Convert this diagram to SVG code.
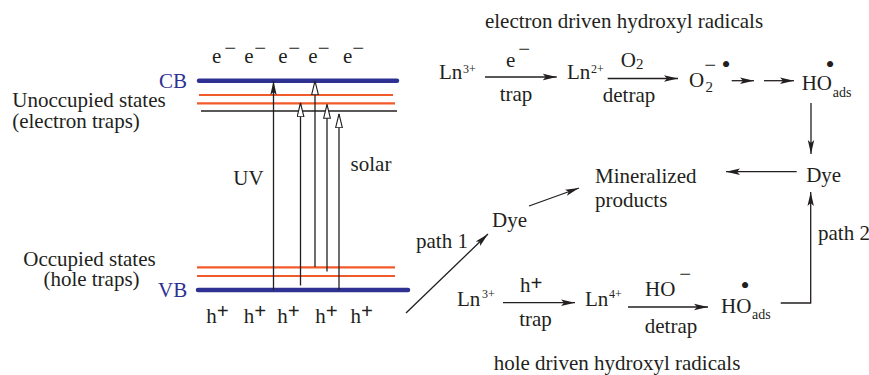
<svg xmlns="http://www.w3.org/2000/svg" width="869" height="375" viewBox="0 0 869 375">
<style>
text{font-family:"Liberation Serif","Times New Roman",serif;font-size:21px;fill:#231f20}
.blue{fill:#2e3192}
.sub{font-size:14px}
.d2{font-size:15px}
.sup{font-size:12px}
.pl{font-weight:bold}
.dot{font-size:26px}
.b{stroke:#2e3192;stroke-width:4.5;stroke-linecap:round}
.r{stroke:#f15a29;stroke-width:2.2}
.k{stroke:#231f20;stroke-width:1.3;fill:none}
</style>
<defs>
<marker id="ah" viewBox="0 0 14 8" refX="14" refY="4" markerWidth="14" markerHeight="8" orient="auto" markerUnits="userSpaceOnUse"><path d="M0,0.8 L14,4 L0,7.2 L3,4 z" fill="#231f20"/></marker>
<marker id="oh" viewBox="0 0 15 8" refX="14.4" refY="4" markerWidth="15" markerHeight="8" orient="auto" markerUnits="userSpaceOnUse"><path d="M0.6,0.6 L14.4,4 L0.6,7.4 z" fill="#fff" stroke="#231f20" stroke-width="1.1"/></marker>
</defs>
<rect width="869" height="375" fill="#fff"/>

<g id="bands">
<line class="b" x1="199" y1="80.7" x2="397" y2="80.7"/>
<line class="r" x1="199" y1="95" x2="393" y2="95"/>
<line class="r" x1="197" y1="103.3" x2="395" y2="103.3"/>
<line class="k" x1="201" y1="111" x2="397" y2="111"/>
<line class="r" x1="197" y1="267.3" x2="395" y2="267.3"/>
<line class="r" x1="197" y1="276" x2="395" y2="276"/>
<line class="b" x1="198" y1="290" x2="408" y2="290"/>
</g>

<g id="band-labels">
<text class="blue" x="159" y="88">CB</text>
<text class="blue" x="158" y="297">VB</text>
<text text-anchor="middle"><tspan x="89" y="107">Unoccupied states</tspan><tspan x="76" y="128">(electron traps)</tspan></text>
<text text-anchor="middle"><tspan x="89.5" y="265.5">Occupied states</tspan><tspan x="91.5" y="285.5">(hole traps)</tspan></text>
<text x="248.5" y="185" text-anchor="middle">UV</text>
<text x="371" y="171" text-anchor="middle">solar</text>
</g>

<g id="electrons">
<text x="212" y="63">e<tspan x="224.3" y="54.7">−</tspan></text>
<text x="244.3" y="63">e<tspan x="254.3" y="54.7">−</tspan></text>
<text x="278.3" y="63">e<tspan x="288.3" y="54.7">−</tspan></text>
<text x="308.3" y="63">e<tspan x="317.8" y="54.7">−</tspan></text>
<text x="343" y="63">e<tspan x="352.3" y="54.7">−</tspan></text>
</g>

<g id="holes">
<text x="206.2" y="323">h<tspan class="pl" x="216.7" y="318.3">+</tspan></text>
<text x="243.8" y="323">h<tspan class="pl" x="254.3" y="318.3">+</tspan></text>
<text x="277.2" y="323">h<tspan class="pl" x="287.7" y="318.3">+</tspan></text>
<text x="315.2" y="323">h<tspan class="pl" x="325.7" y="318.3">+</tspan></text>
<text x="350.5" y="323">h<tspan class="pl" x="361" y="318.3">+</tspan></text>
</g>

<g id="title-electron"><text x="624" y="28" text-anchor="middle">electron driven hydroxyl radicals</text></g>
<g id="ln3-top"><text x="439" y="79">Ln<tspan class="sup" x="463" y="73.3">3+</tspan></text></g>
<g id="lbl-e"><text x="506" y="67">e<tspan x="518.3" y="56.3">−</tspan></text></g>
<g id="lbl-trap-top"><text x="516" y="101" text-anchor="middle">trap</text></g>
<g id="ln2"><text x="567" y="79">Ln<tspan class="sup" x="591" y="73.3">2+</tspan></text></g>
<g id="lbl-o2"><text x="620.7" y="66.7">O<tspan class="d2" x="636" y="68.5">2</tspan></text></g>
<g id="lbl-detrap-top"><text x="629" y="102" text-anchor="middle">detrap</text></g>
<g id="superoxide"><text x="689" y="86.7">O<tspan class="d2" x="705.5" y="92.3">2</tspan><tspan x="704.3" y="72">−</tspan><tspan class="dot" x="721.5" y="73">•</tspan></text></g>
<g id="ho-top"><text x="801.7" y="90">HO<tspan class="sub" x="832.7" y="96.7">ads</tspan><tspan class="dot" x="825.5" y="73.3">•</tspan></text></g>
<g id="dye-right"><text x="823.7" y="181.7" text-anchor="middle">Dye</text></g>
<g id="mineralized"><text><tspan x="595" y="182.7">Mineralized</tspan><tspan x="595" y="206.7">products</tspan></text></g>
<g id="dye-mid"><text x="492" y="227">Dye</text></g>
<g id="lbl-path1"><text x="416" y="248">path 1</text></g>
<g id="lbl-path2"><text x="818" y="240">path 2</text></g>
<g id="ln3-bottom"><text x="457" y="306">Ln<tspan class="sup" x="482" y="298.3">3+</tspan></text></g>
<g id="lbl-h"><text x="520" y="291.7">h<tspan class="pl" x="530.5" y="290.3">+</tspan></text></g>
<g id="lbl-trap-bottom"><text x="535.5" y="326" text-anchor="middle">trap</text></g>
<g id="ln4"><text x="585" y="306">Ln<tspan class="sup" x="609" y="298.3">4+</tspan></text></g>
<g id="lbl-ho-minus"><text x="645" y="296">HO<tspan x="679.3" y="281.3">−</tspan></text></g>
<g id="lbl-detrap-bottom"><text x="671" y="332.7" text-anchor="middle">detrap</text></g>
<g id="ho-bottom"><text x="721" y="312.7">HO<tspan class="sub" x="752" y="319">ads</tspan><tspan class="dot" x="740.5" y="294">•</tspan></text></g>
<g id="title-hole"><text x="617" y="370" text-anchor="middle">hole driven hydroxyl radicals</text></g>

<g id="connectors" class="k">
<line x1="273.5" y1="290" x2="273.5" y2="81" marker-end="url(#ah)"/>
<line x1="300.5" y1="285.5" x2="300.5" y2="103" marker-end="url(#oh)"/>
<line x1="315" y1="267" x2="315" y2="81" marker-end="url(#oh)"/>
<line x1="327" y1="271.5" x2="327" y2="104.5" marker-end="url(#oh)"/>
<line x1="339" y1="290" x2="339" y2="114" marker-end="url(#oh)"/>
<line x1="485" y1="77" x2="556.7" y2="77" marker-end="url(#ah)"/>
<line x1="607.7" y1="78.5" x2="678" y2="78.5" marker-end="url(#ah)"/>
<line x1="731.7" y1="80.7" x2="754" y2="80.7" marker-end="url(#ah)"/>
<line x1="764" y1="80.7" x2="794" y2="80.7" marker-end="url(#ah)"/>
<line x1="811" y1="103" x2="811" y2="154" marker-end="url(#ah)"/>
<line x1="796.7" y1="171.7" x2="726" y2="171.7" marker-end="url(#ah)"/>
<line x1="529" y1="206" x2="579" y2="188" marker-end="url(#ah)"/>
<line x1="406" y1="313" x2="488" y2="234" marker-end="url(#ah)"/>
<line x1="503" y1="302.7" x2="575" y2="302.7" marker-end="url(#ah)"/>
<line x1="628" y1="307" x2="708" y2="307" marker-end="url(#ah)"/>
<path d="M780.7,303 H810.7 V192" marker-end="url(#ah)"/>
</g>
</svg>
